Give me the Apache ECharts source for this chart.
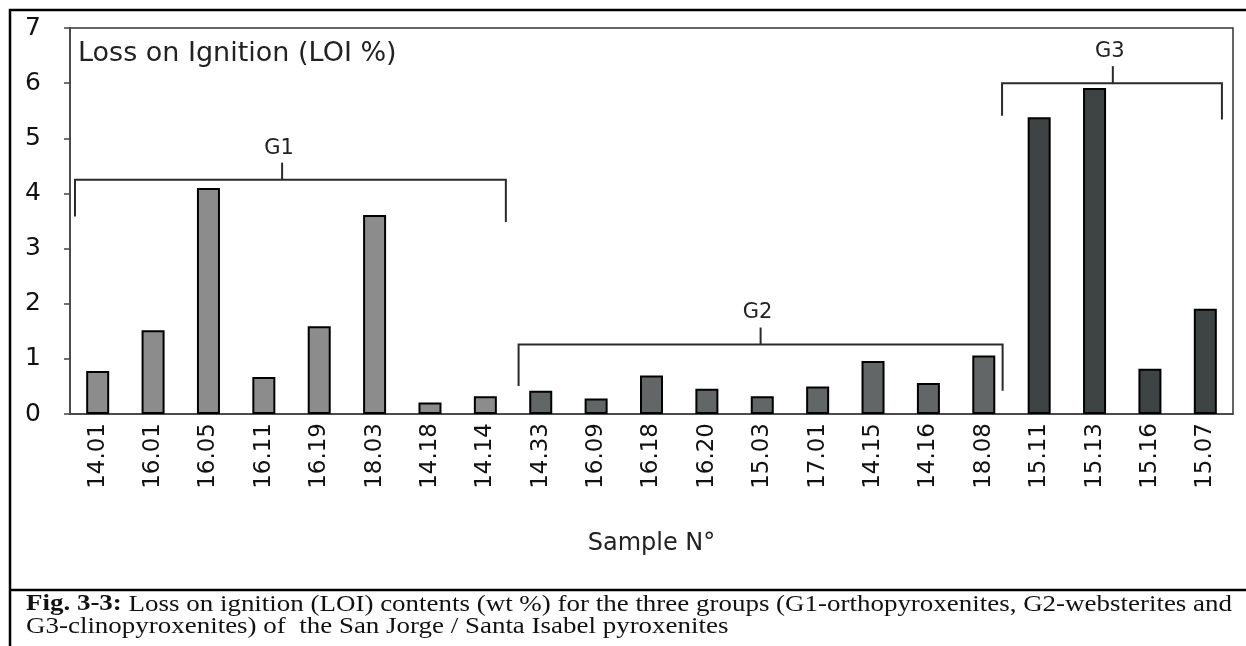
<!DOCTYPE html>
<html>
<head>
<meta charset="utf-8">
<script src="https://cdn.jsdelivr.net/npm/echarts@6/dist/echarts.min.js"></script>
<style>
  html, body { margin: 0; padding: 0; background: #fff; }
  #main { width: 1246px; height: 646px; }
</style>
</head>
<body>
<div id="main"></div>
<script>
// samples, in plot order
var samples = ['14.01', '16.01', '16.05', '16.11', '16.19', '18.03', '14.18', '14.14',
	'14.33', '16.09', '16.18', '16.20', '15.03', '17.01', '14.15', '14.16', '18.08',
	'15.11', '15.13', '15.16', '15.07'];
// LOI wt %
var loi = [0.78, 1.52, 4.10, 0.67, 1.59, 3.61, 0.21, 0.32,
	0.42, 0.28, 0.70, 0.46, 0.32, 0.50, 0.96, 0.56, 1.06,
	5.38, 5.91, 0.82, 1.91];
// group of each sample (0 = G1, 1 = G2, 2 = G3)
var sampleGroup = [0, 0, 0, 0, 0, 0, 0, 0,
	1, 1, 1, 1, 1, 1, 1, 1, 1,
	2, 2, 2, 2];
var yTicks = [0, 1, 2, 3, 4, 5, 6, 7];

// group brackets (x in category index units, y in LOI units)
var groupNames = ['G1', 'G2', 'G3'];
var groupFrom = [-0.41, 7.60, 16.33];
var groupTo = [7.37, 16.34, 20.30];
var groupMid = [3.33, 11.97, 18.33];
var groupLevel = [4.25, 1.26, 6.00];
var groupLeftEnd = [3.58, 0.51, 5.41];
var groupRightEnd = [3.48, 0.42, 5.34];

var groupColors = ['#8c8c8c', '#626666', '#3e4343'];
var font = 'DejaVu Sans';
var serif = 'Liberation Serif';

var barData = loi.map(function (v, i) {
	return { value: v, itemStyle: { color: groupColors[sampleGroup[i]] } };
});
var bracketData = groupNames.map(function (n, i) {
	return [groupFrom[i], groupTo[i], groupMid[i], groupLevel[i], groupLeftEnd[i], groupRightEnd[i], i];
});

function renderBracket(params, api) {
	var x0 = api.value(0), x1 = api.value(1), xm = api.value(2);
	var top = api.value(3), l = api.value(4), r = api.value(5);
	var p1 = api.coord([x0, l]);
	var p2 = api.coord([x0, top]);
	var p3 = api.coord([x1, top]);
	var p4 = api.coord([x1, r]);
	var pm = api.coord([xm, top]);
	var st = { stroke: '#2a2a2a', lineWidth: 2, fill: null };
	return {
		type: 'group',
		children: [
			{ type: 'polyline', shape: { points: [p1, p2, p3, p4] }, style: st },
			{ type: 'line', shape: { x1: pm[0], y1: pm[1], x2: pm[0], y2: pm[1] - 17 }, style: st },
			{ type: 'text', x: pm[0] - 3, y: pm[1] - 21,
			  style: { text: groupNames[api.value(6)], fontFamily: font, fontSize: 21, fill: '#222',
			           align: 'center', verticalAlign: 'bottom' } }
		]
	};
}

// stretch caption lines to the frame width, like the justified original
function fitScale(parts, px, target) {
	var c = document.createElement('canvas').getContext('2d');
	var w = 0;
	parts.forEach(function (t) {
		c.font = (t.bold ? 'bold ' : '') + px + 'px ' + serif;
		w += c.measureText(t.s).width;
	});
	return target / w;
}
var capSize = 23;
var cap1a = 'Fig. 3-3:';
var cap1b = ' Loss on ignition (LOI) contents (wt %) for the three groups (G1-orthopyroxenites, G2-websterites and';
var cap2 = 'G3-clinopyroxenites) of  the San Jorge / Santa Isabel pyroxenites';
var capScale = fitScale([{ s: cap1a, bold: true }, { s: cap1b }], capSize, 1206);

var option = {
	animation: false,
	title: {
		text: 'Loss on Ignition (LOI %)',
		left: 78, top: 40, padding: 0,
		textStyle: { fontFamily: font, fontSize: 27, fontWeight: 'normal', color: '#222' }
	},
	grid: {
		left: 70, right: 13, top: 28, bottom: 232,
		show: true, borderColor: '#333', borderWidth: 1.5, backgroundColor: 'transparent'
	},
	xAxis: [
		{
			type: 'category',
			data: samples,
			name: 'Sample N°',
			nameLocation: 'middle',
			nameGap: 118,
			nameTextStyle: { fontFamily: font, fontSize: 24, color: '#222' },
			axisLine: { lineStyle: { color: '#444', width: 1.5 } },
			axisTick: { length: 7, lineStyle: { color: '#444', width: 1.5 } },
			axisLabel: { rotate: 90, margin: 9, fontFamily: font, fontSize: 23, color: '#111', interval: 0 },
			splitLine: { show: false }
		},
		{
			type: 'value', min: -0.5, max: 20.5, show: false,
			splitLine: { show: false }
		}
	],
	yAxis: {
		type: 'value',
		min: yTicks[0], max: yTicks[yTicks.length - 1], interval: 1,
		axisLine: { show: true, onZero: false, lineStyle: { color: '#444', width: 1.5 } },
		axisTick: { show: true, length: 6, lineStyle: { color: '#444', width: 1.5 } },
		axisLabel: { margin: 29, fontFamily: font, fontSize: 25, color: '#111' },
		splitLine: { show: false }
	},
	series: [
		{
			type: 'bar',
			data: barData,
			barWidth: 23,
			itemStyle: { borderColor: '#000', borderWidth: 2 }
		},
		{
			type: 'custom',
			xAxisIndex: 1,
			yAxisIndex: 0,
			data: bracketData,
			renderItem: renderBracket,
			z: 5
		}
	],
	graphic: [
		{ type: 'rect', shape: { x: 10, y: 10, width: 1260, height: 700 },
		  style: { fill: null, stroke: '#000', lineWidth: 2.5 } },
		{ type: 'line', shape: { x1: 10, y1: 590, x2: 1260, y2: 590 },
		  style: { stroke: '#000', lineWidth: 2.5 } },
		{ type: 'text', x: 26, y: 593, scaleX: capScale,
		  style: { text: '{b|' + cap1a + '}' + cap1b, fontFamily: serif, fontSize: capSize, fill: '#111',
		           rich: { b: { fontFamily: serif, fontSize: capSize, fontWeight: 'bold', fill: '#111' } } } },
		{ type: 'text', x: 26, y: 615, scaleX: capScale,
		  style: { text: cap2, fontFamily: serif, fontSize: capSize, fill: '#111' } }
	]
};

var myChart = echarts.init(document.getElementById('main'));
myChart.setOption(option);
</script>
</body>
</html>
